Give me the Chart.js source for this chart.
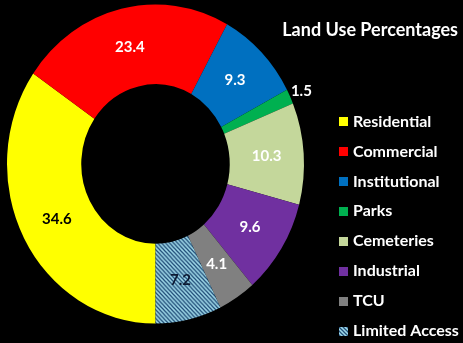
<!DOCTYPE html>
<html>
<head>
<meta charset="utf-8">
<script src="https://cdn.jsdelivr.net/npm/chart.js@4.4.1/dist/chart.umd.min.js"></script>
<style>
  html, body { margin: 0; padding: 0; background: #000; }
  #c { display: block; }
</style>
</head>
<body>
<canvas id="c" width="463" height="343"></canvas>
<script>
// ---- data ----
const categories = ['Residential', 'Commercial', 'Institutional', 'Parks', 'Cemeteries', 'Industrial', 'TCU', 'Limited Access'];
const values = [34.6, 23.4, 9.3, 1.5, 10.3, 9.6, 4.1, 7.2];
const chartTitle = 'Land Use Percentages';

// ---- styles ----
const sliceColors = ['#FFFF00', '#FF0000', '#0070C0', '#00B050', '#C4D79B', '#7030A0', '#808080', null];
const labelColors = ['#000000', '#FFFFFF', '#FFFFFF', '#FFFFFF', '#FFFFFF', '#FFFFFF', '#FFFFFF', '#0d1a33'];
const outsideLabel = [false, false, false, true, false, false, false, false];
const Y_STRETCH = 1.074;
const LEGEND = { boxX: 339, textX: 353, firstY: 121.5, step: 29.93, box: 9, font: 'bold 16px Lato' };
const TITLE = { rightX: 458, y: 30, font: 'bold 18px Lato' };

function hatch() {
  const p = document.createElement('canvas');
  p.width = 4; p.height = 4;
  const g = p.getContext('2d');
  g.fillStyle = '#9fd8e8';
  g.fillRect(0, 0, 4, 4);
  g.strokeStyle = '#23507a';
  g.lineWidth = 1.25;
  g.beginPath();
  g.moveTo(-1, -1); g.lineTo(5, 5);
  g.moveTo(-1, 3); g.lineTo(1, 5);
  g.moveTo(3, -1); g.lineTo(5, 1);
  g.stroke();
  return g.createPattern(p, 'repeat');
}

function build() {
  const colors = sliceColors.map(c => c || hatch());

  const bgPlugin = {
    id: 'bg',
    beforeDraw(chart) {
      const ctx = chart.ctx;
      ctx.save();
      ctx.fillStyle = '#000';
      ctx.fillRect(0, 0, chart.width, chart.height);
      ctx.restore();
    }
  };

  const stretchAndLabels = {
    id: 'stretchAndLabels',
    beforeDatasetsDraw(chart) {
      const arc = chart.getDatasetMeta(0).data[0];
      const ctx = chart.ctx;
      ctx.save();
      ctx.translate(arc.x, arc.y);
      ctx.scale(1, Y_STRETCH);
      ctx.translate(-arc.x, -arc.y);
    },
    afterDatasetsDraw(chart) {
      const ctx = chart.ctx;
      ctx.restore();
      const meta = chart.getDatasetMeta(0);
      ctx.save();
      ctx.font = 'bold 15px Lato';
      ctx.textAlign = 'center';
      ctx.textBaseline = 'middle';
      meta.data.forEach((el, i) => {
        const cx = el.x, cy = el.y;
        let px, py;
        if (outsideLabel[i]) {
          const mid = (el.startAngle + el.endAngle) / 2;
          const r = el.outerRadius + 12.5;
          px = cx + Math.cos(mid) * r;
          py = cy + Math.sin(mid) * r;
        } else {
          const p = el.tooltipPosition();
          px = p.x; py = p.y;
        }
        py = cy + (py - cy) * Y_STRETCH;
        ctx.fillStyle = labelColors[i];
        ctx.fillText(values[i].toFixed(1), px, py);
      });
      ctx.restore();
    }
  };

  const titleAndLegend = {
    id: 'titleAndLegend',
    afterDraw(chart) {
      const ctx = chart.ctx;
      ctx.save();
      ctx.fillStyle = '#FFFFFF';
      ctx.font = TITLE.font;
      ctx.textAlign = 'right';
      ctx.textBaseline = 'middle';
      ctx.fillText(chartTitle, TITLE.rightX, TITLE.y);

      const ds = chart.data.datasets[0];
      ctx.font = LEGEND.font;
      ctx.textAlign = 'left';
      chart.data.labels.forEach((lab, i) => {
        const y = LEGEND.firstY + i * LEGEND.step;
        ctx.fillStyle = ds.backgroundColor[i];
        ctx.fillRect(LEGEND.boxX, Math.round(y - LEGEND.box / 2), LEGEND.box, LEGEND.box);
        ctx.fillStyle = '#FFFFFF';
        ctx.fillText(lab, LEGEND.textX, y);
      });
      ctx.restore();
    }
  };

  new Chart(document.getElementById('c'), {
    type: 'doughnut',
    data: {
      labels: categories,
      datasets: [{
        data: values,
        backgroundColor: colors,
        borderWidth: 0
      }]
    },
    options: {
      responsive: false,
      devicePixelRatio: 1,
      animation: false,
      events: [],
      rotation: 180,
      cutout: '50%',
      radius: 148.5,
      layout: { padding: { left: 7, right: 159, top: 15.5, bottom: 30.5 } },
      plugins: {
        tooltip: { enabled: false },
        title: { display: false },
        legend: { display: false }
      }
    },
    plugins: [bgPlugin, stretchAndLabels, titleAndLegend]
  });
}

if (document.fonts && document.fonts.load) {
  Promise.all([
    document.fonts.load('bold 15px Lato'),
    document.fonts.load('bold 16px Lato'),
    document.fonts.load('bold 18px Lato')
  ]).then(build, build);
} else {
  build();
}
</script>
</body>
</html>
